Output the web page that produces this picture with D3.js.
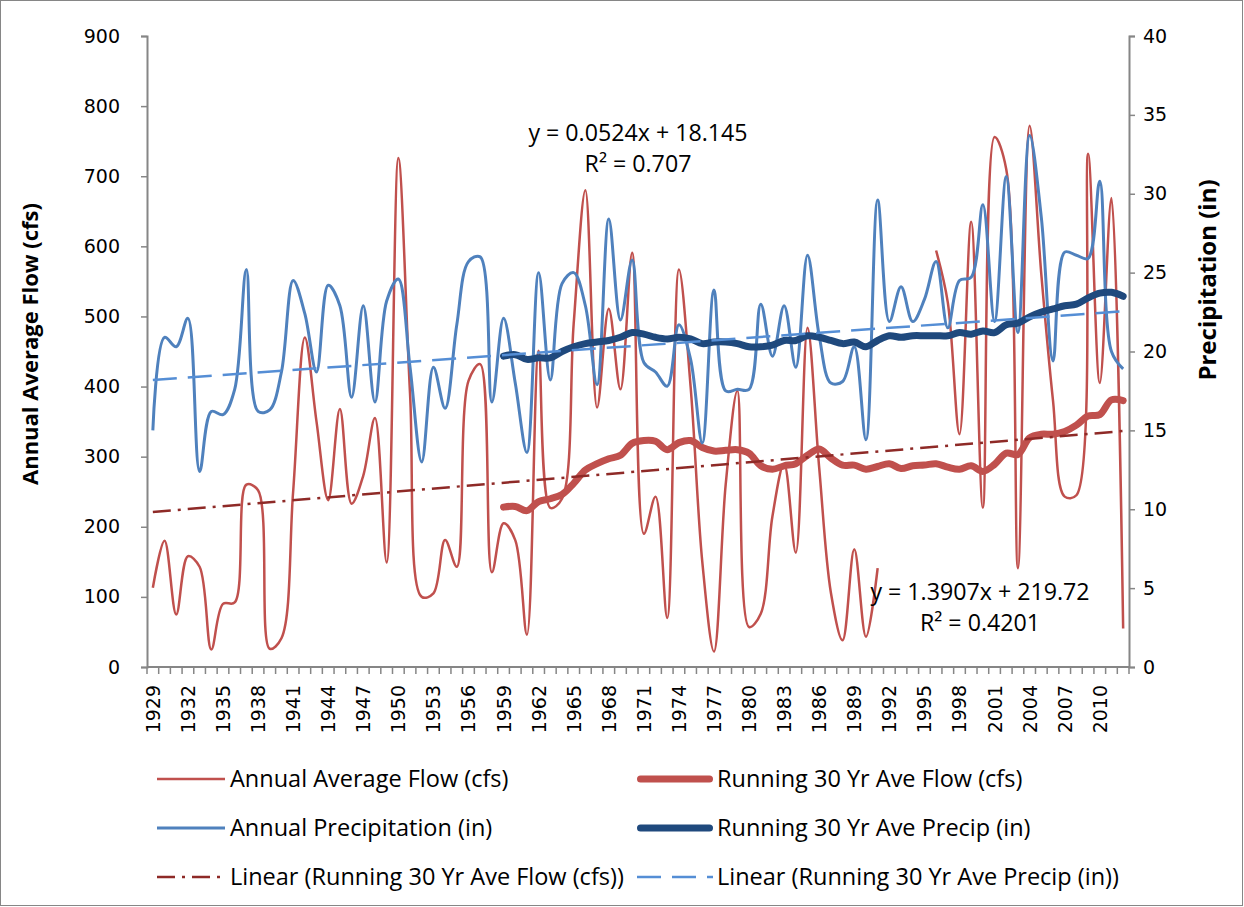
<!DOCTYPE html>
<html><head><meta charset="utf-8">
<script src="https://cdn.jsdelivr.net/npm/d3@7"></script>
<style>
html,body{margin:0;padding:0;background:#fff;}
svg{display:block;}
</style></head>
<body>
<svg id="chart" width="1244" height="907"></svg>
<script>
// ---------- data ----------
const years = d3.range(1929, 2013);
const flowLabels = years.filter((y, i) => i % 3 === 0);
const leftTicks = [0, 100, 200, 300, 400, 500, 600, 700, 800, 900];
const rightTicks = [0, 5, 10, 15, 20, 25, 30, 35, 40];

const annualFlow = [113,180,75,158,143,25,90,92,260,252,26,41,250,470,350,238,368,233,273,355,
  149,726,390,100,105,181,143,408,432,135,205,181,46,451,227,240,490,680,370,511,
  396,591,190,243,70,567,400,150,22,260,394,57,76,215,290,163,484,284,106,38,
  168,43,141,null,null,null,null,594,520,332,635,227,756,710,141,772,560,380,243,245,
  732,405,669,55];

const annualPrecip = [15.0,20.9,20.3,22.1,12.4,16.2,16.0,17.6,25.2,16.2,16.3,18.7,24.5,22.4,18.7,24.2,22.9,17.1,22.9,16.8,
  23.2,24.6,19.0,13.0,19.0,16.4,21.7,25.7,26.0,16.8,22.1,18.0,13.6,25.0,18.2,24.3,25.0,22.9,17.9,28.4,
  22.0,25.8,19.3,18.7,17.8,21.7,19.5,14.2,23.9,17.5,17.6,17.6,23.0,19.7,22.9,19.0,26.1,21.0,18.0,18.1,
  20.3,14.4,29.6,21.9,24.1,21.9,23.3,25.7,21.5,24.5,24.7,29.3,21.9,31.1,21.2,33.7,28.5,19.4,26.3,26.1,
  25.9,30.8,20.0,18.9];

const runStart = 1959;
const runFlow = [228,229,223,236,240,246,262,281,290,297,302,319,323,322,310,320,323,313,308,309,
  310,305,287,282,287,290,302,311,298,288,288,282,286,290,283,287,288,290,285,282,
  287,279,289,305,303,327,332,332,336,345,358,360,381,380];
const runPrecip = [19.7,19.8,19.5,19.6,19.6,20.0,20.3,20.5,20.6,20.7,20.9,21.2,21.1,20.9,20.8,20.9,20.8,20.5,20.6,20.6,
  20.5,20.3,20.3,20.4,20.7,20.7,21.0,20.9,20.7,20.5,20.6,20.3,20.7,21.0,20.9,21.0,21.0,21.0,21.0,21.2,
  21.1,21.3,21.2,21.7,21.8,22.2,22.5,22.7,22.9,23.0,23.4,23.7,23.75,23.5];

const flowTrend = {slope: 1.3907, intercept: 219.72, r2: "0.4201"};
const precipTrend = {slope: 0.0524, intercept: 18.145, r2: "0.707"};

const seriesNames = ["Annual Average Flow (cfs)", "Running 30 Yr Ave Flow (cfs)",
  "Annual Precipitation (in)", "Running 30 Yr Ave Precip (in)",
  "Linear (Running 30 Yr Ave Flow (cfs))", "Linear (Running 30 Yr Ave Precip (in))"];

// ---------- layout ----------
const svg = d3.select("#chart");
const L = 147, R = 1129, T = 36, B = 667;
const axisColor = "#868686";
const tickFont = "'DejaVu Sans', sans-serif";
const textFont = "'Open Sans', sans-serif";

const x = d3.scaleBand().domain(years).range([L, R]).padding(0);
const xc = yr => x(yr) + x.bandwidth() / 2;
const yL = d3.scaleLinear().domain([0, 900]).range([B, T]);
const yR = d3.scaleLinear().domain([0, 40]).range([B, T]);

// outer border
svg.append("rect").attr("x", 0.5).attr("y", 0.5).attr("width", 1242).attr("height", 905)
  .attr("fill", "none").attr("stroke", axisColor).attr("stroke-width", 1);

// ---------- axes ----------
const gL = svg.append("g").attr("transform", `translate(${L},0)`)
  .call(d3.axisLeft(yL).tickValues(leftTicks).tickSize(6).tickPadding(21));
const gR = svg.append("g").attr("transform", `translate(${R},0)`)
  .call(d3.axisRight(yR).tickValues(rightTicks).tickSize(6).tickPadding(8));
[gL, gR].forEach(g => {
  g.select(".domain").attr("stroke", axisColor).attr("stroke-width", 2);
  g.selectAll(".tick line").attr("stroke", axisColor).attr("stroke-width", 1.5);
  g.selectAll("text").attr("font-family", tickFont).attr("font-size", 19).attr("fill", "#000");
});

// x axis
const gX = svg.append("g").attr("transform", `translate(0,${B})`);
gX.append("line").attr("x1", L).attr("x2", R).attr("stroke", axisColor).attr("stroke-width", 2);
const boundaries = years.map(y => x(y)).concat([x(years[years.length - 1]) + x.bandwidth()]);
gX.selectAll("line.tk").data(boundaries).join("line").attr("class", "tk")
  .attr("x1", d => d).attr("x2", d => d).attr("y1", 0).attr("y2", 7)
  .attr("stroke", axisColor).attr("stroke-width", 1.5);
gX.selectAll("text.lbl").data(flowLabels).join("text").attr("class", "lbl")
  .attr("transform", d => `translate(${xc(d) + 7},${18}) rotate(-90)`)
  .attr("text-anchor", "end")
  .attr("font-family", tickFont).attr("font-size", 19).text(d => d);

// axis titles
svg.append("text").attr("transform", `translate(38,${344}) rotate(-90)`)
  .attr("text-anchor", "middle").attr("font-family", textFont).attr("font-weight", "bold")
  .attr("font-size", 22).text("Annual Average Flow (cfs)");
svg.append("text").attr("transform", `translate(1216,${280}) rotate(-90)`)
  .attr("text-anchor", "middle").attr("font-family", textFont).attr("font-weight", "bold")
  .attr("font-size", 24).text("Precipitation (in)");

// ---------- series ----------
const curve = d3.curveCatmullRom.alpha(0.5);
const flowPts = years.map((yr, i) => ({yr, v: annualFlow[i]}));
const precipPts = years.map((yr, i) => ({yr, v: annualPrecip[i]}));
const runFlowPts = runFlow.map((v, i) => ({yr: runStart + i, v}));
const runPrecipPts = runPrecip.map((v, i) => ({yr: runStart + i, v}));

const lineL = d3.line().defined(d => d.v != null).x(d => xc(d.yr)).y(d => yL(d.v)).curve(curve);
const lineR = d3.line().defined(d => d.v != null).x(d => xc(d.yr)).y(d => yR(d.v)).curve(curve);
const straightL = d3.line().x(d => xc(d.yr)).y(d => yL(d.v));
const straightR = d3.line().x(d => xc(d.yr)).y(d => yR(d.v));

const flowTrendPts = [years[0], years[years.length - 1]].map(yr =>
  ({yr, v: flowTrend.slope * (yr - years[0] + 1) + flowTrend.intercept}));
const precipTrendPts = [years[0], years[years.length - 1]].map(yr =>
  ({yr, v: precipTrend.slope * (yr - years[0] + 1) + precipTrend.intercept}));

const cRed = "#C0504D", cBlue = "#4F81BD", cNavy = "#1F497D", cTrendRed = "#8E2A27", cTrendBlue = "#558ED5";

svg.append("path").datum(flowPts).attr("d", lineL).attr("fill", "none")
  .attr("stroke", cRed).attr("stroke-width", 2.5);
svg.append("path").datum(runFlowPts).attr("d", lineL).attr("fill", "none")
  .attr("stroke", cRed).attr("stroke-width", 7).attr("stroke-linecap", "round").attr("stroke-linejoin", "round");
svg.append("path").datum(flowTrendPts).attr("d", straightL).attr("fill", "none")
  .attr("stroke", cTrendRed).attr("stroke-width", 2.5).attr("stroke-dasharray", "18,7,3,7");
svg.append("path").datum(precipPts).attr("d", lineR).attr("fill", "none")
  .attr("stroke", cBlue).attr("stroke-width", 3);
svg.append("path").datum(runPrecipPts).attr("d", lineR).attr("fill", "none")
  .attr("stroke", cNavy).attr("stroke-width", 7).attr("stroke-linecap", "round").attr("stroke-linejoin", "round");
svg.append("path").datum(precipTrendPts).attr("d", straightR).attr("fill", "none")
  .attr("stroke", cTrendBlue).attr("stroke-width", 2.5).attr("stroke-dasharray", "24,11");

// trend equations
function eq(cx, cy, t) {
  const g = svg.append("g").attr("font-family", textFont).attr("font-size", 23.2).attr("text-anchor", "middle");
  g.append("text").attr("x", cx).attr("y", cy).text(`y = ${t.slope}x + ${t.intercept}`);
  g.append("text").attr("x", cx).attr("y", cy + 31).text(`R² = ${t.r2}`);
}
eq(638, 141, precipTrend);
eq(980, 600, flowTrend);

// ---------- legend ----------
const legendItems = [
  {name: seriesNames[0], color: cRed, w: 2.5, dash: null, col: 0, row: 0},
  {name: seriesNames[1], color: cRed, w: 7, dash: null, col: 1, row: 0},
  {name: seriesNames[2], color: cBlue, w: 3, dash: null, col: 0, row: 1},
  {name: seriesNames[3], color: cNavy, w: 7, dash: null, col: 1, row: 1},
  {name: seriesNames[4], color: cTrendRed, w: 2.5, dash: "18,7,3,7", col: 0, row: 2},
  {name: seriesNames[5], color: cTrendBlue, w: 2.5, dash: "24,11", col: 1, row: 2}
];
const colLine = [[157, 225], [637, 713]], colText = [230, 717], rowY = [779, 828, 877];
const lg = svg.append("g");
legendItems.forEach(d => {
  const [x1, x2] = colLine[d.col], gy = rowY[d.row];
  const inset = d.w > 5 ? 3.5 : 0;
  lg.append("line").attr("x1", x1 + inset).attr("x2", x2 - inset).attr("y1", gy).attr("y2", gy)
    .attr("stroke", d.color).attr("stroke-width", d.w)
    .attr("stroke-dasharray", d.dash).attr("stroke-linecap", d.w > 5 ? "round" : "butt");
  lg.append("text").attr("x", colText[d.col]).attr("y", gy + 8).attr("font-family", textFont)
    .attr("font-size", 23.5).text(d.name);
});
</script>
</body></html>
